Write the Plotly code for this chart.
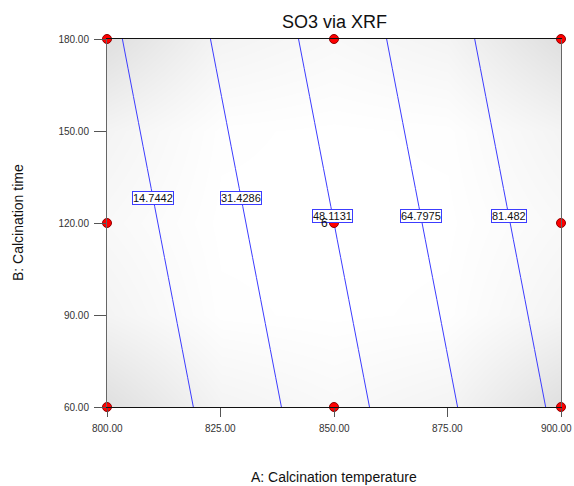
import numpy as np
import plotly.graph_objects as go

# ---- data ----
temp_levels = [800, 850, 900]          # A: Calcination temperature
time_levels = [60, 120, 180]           # B: Calcination time
# estimated SO3 response at the grid points (rows = time, cols = temperature)
so3 = [
    [-1.61, 41.39, 84.39],
    [5.11, 48.11, 91.11],
    [11.83, 54.83, 97.83],
]
contour_levels = [14.7442, 31.4286, 48.1131, 64.7975, 81.482]
label_time = [128.2, 128.2, 122.3, 122.3, 122.3]

# background shading (relative std. error, read as light/dark grey)
shade_temp = [800, 825, 850, 875, 900]
shade_time = [60, 90, 120, 150, 180]
shade = [
    [1.00, 0.35, 0.20, 0.35, 1.00],
    [0.35, 0.03, 0.00, 0.03, 0.35],
    [0.20, 0.00, 0.00, 0.00, 0.20],
    [0.35, 0.03, 0.00, 0.03, 0.35],
    [1.00, 0.35, 0.20, 0.35, 1.00],
]

# design points
design_temp = [800, 850, 900, 800, 850, 900, 800, 850, 900]
design_time = [60, 60, 60, 120, 120, 120, 180, 180, 180]
center_reps = "6"

xticks = [800, 825, 850, 875, 900]
yticks = [60, 90, 120, 150, 180]

BLUE = "#3c3cff"
TICKFONT = dict(family="Arial", size=10, color="#333")

fig = go.Figure()
fig.add_trace(go.Heatmap(
    x=shade_temp, y=shade_time, z=shade, zsmooth="best", zmin=0, zmax=1,
    colorscale=[[0, "#ffffff"], [1, "#dfdfdf"]], showscale=False,
    hoverinfo="skip"))

fig.add_trace(go.Contour(
    x=temp_levels, y=time_levels, z=so3,
    autocontour=False,
    contours=dict(start=contour_levels[0], end=contour_levels[-1] + 0.01,
                  size=contour_levels[1] - contour_levels[0],
                  coloring="lines", showlabels=False),
    colorscale=[[0, BLUE], [1, BLUE]], showscale=False,
    line=dict(width=1), hoverinfo="skip"))

fig.add_trace(go.Scatter(
    x=design_temp, y=design_time, mode="markers",
    marker=dict(size=9, color="#ff0000", line=dict(color="#900000", width=1)),
    cliponaxis=False, hoverinfo="skip"))

# contour labels placed on the lines (interpolated from the grid)
z = np.array(so3)
for lev, bt in zip(contour_levels, label_time):
    row = np.array([np.interp(bt, time_levels, z[:, j]) for j in range(len(temp_levels))])
    a = float(np.interp(lev, row, temp_levels))
    fig.add_annotation(x=a, y=bt, text=f"{lev:g}", showarrow=False,
                       font=dict(family="Arial", size=11, color="#111"),
                       bgcolor="white", bordercolor=BLUE, borderwidth=1, borderpad=0)

fig.add_annotation(x=temp_levels[1], y=time_levels[1], text=center_reps, showarrow=False,
                   xshift=-10, yshift=0, font=dict(family="Arial", size=12, color="#111"))

# x tick labels: the last one is right-aligned so it stays inside the page
xticktext = [f"{v:.2f}" for v in xticks]
for v, t in zip(xticks, xticktext):
    last = v == xticks[-1]
    fig.add_annotation(x=v, xref="x", yref="paper", y=0, yshift=-21, yanchor="middle",
                       xanchor="right" if last else "center", xshift=13 if last else 0,
                       text=t, showarrow=False, font=TICKFONT)

fig.add_annotation(xref="paper", yref="paper", x=0.5, y=1, yshift=17, yanchor="middle",
                   xanchor="center", text="SO3 via XRF",
                   showarrow=False, font=dict(family="Arial", size=18, color="#111"))
fig.add_annotation(xref="paper", yref="paper", x=0.5, y=0, yshift=-70, yanchor="middle",
                   xanchor="center", text="A: Calcination temperature", showarrow=False,
                   font=dict(family="Arial", size=14, color="#111"))
fig.add_annotation(xref="paper", yref="paper", x=0, xshift=-89, y=0.5, yanchor="middle",
                   xanchor="center", text="B: Calcination time", textangle=-90, showarrow=False,
                   font=dict(family="Arial", size=14, color="#111"))

fig.update_layout(
    width=574, height=486, margin=dict(l=107, r=13, t=39, b=79, autoexpand=False),
    paper_bgcolor="white", plot_bgcolor="white", showlegend=False,
    xaxis=dict(range=[799.9999, 900.0001], tickvals=xticks, showticklabels=False,
               ticks="outside", ticklen=9, tickcolor="#555",
               automargin=False,
               showline=True, linecolor="#111", mirror=True, showgrid=False,
               zeroline=False),
    yaxis=dict(range=[59.9999, 180.0001], tickvals=yticks, tickformat=".2f",
               ticks="outside", ticklen=12, tickcolor="#555", automargin=False,
               ticklabelstandoff=3,
               showline=True, linecolor="#666", mirror=True, showgrid=False,
               zeroline=False, tickfont=TICKFONT),
)

fig.write_html("out.html")
